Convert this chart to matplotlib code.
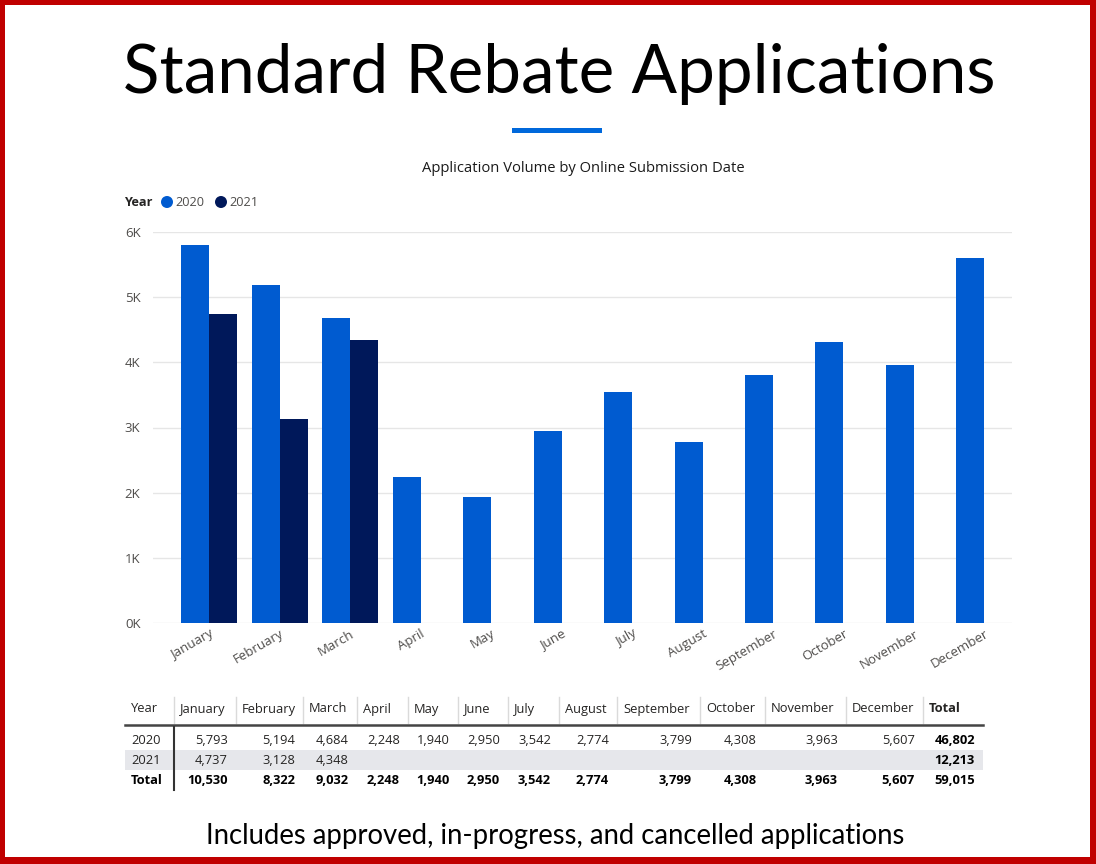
import matplotlib
matplotlib.use("Agg")
import matplotlib.pyplot as plt
from matplotlib.patches import Rectangle, Circle
import numpy as np

months = ["January", "February", "March", "April", "May", "June", "July",
          "August", "September", "October", "November", "December"]
values_2020 = [5793, 5194, 4684, 2248, 1940, 2950, 3542, 2774, 3799, 4308, 3963, 5607]
values_2021 = [4737, 3128, 4348]
years = ["2020", "2021"]
yticks = [0, 1000, 2000, 3000, 4000, 5000, 6000]
ytick_labels = ["0K", "1K", "2K", "3K", "4K", "5K", "6K"]

title = "Standard Rebate Applications"
subtitle = "Application Volume by Online Submission Date"
footer = "Includes approved, in-progress, and cancelled applications"

c2020 = "#005BD0"
c2021 = "#00185A"
gray_txt = "#4F4D4B"
UI = ["Open Sans", "DejaVu Sans"]
TITLE_FONT = ["Lato", "DejaVu Sans"]

W, H = 1096, 864
fig = plt.figure(figsize=(W / 100, H / 100), dpi=100)
fig.patch.set_facecolor("white")

# background overlay axes in pixel coordinates
bg = fig.add_axes([0, 0, 1, 1])
bg.set_xlim(0, W)
bg.set_ylim(H, 0)
bg.axis("off")

# red border
bw = 5
for (x, y, w, h) in [(0, 0, W, bw), (0, H - bw - 2, W, bw + 2), (0, 0, bw, H), (W - bw - 1, 0, bw + 1, H)]:
    bg.add_patch(Rectangle((x, y), w, h, color="#C00000", lw=0))

bg.text(559, 74, title, fontsize=48.5, family=TITLE_FONT, ha="center", va="center", color="black")
bg.add_patch(Rectangle((512, 128), 90, 5, color="#0068DB", lw=0))
bg.text(583, 168, subtitle, fontsize=10.6, family=UI, ha="center", va="center", color="#1A1A1A")

# legend
bg.text(124, 202, "Year", fontsize=9.2, family=UI, weight="bold", ha="left", va="center", color="#252423")
for i, (yr, col) in enumerate(zip(years, [c2020, c2021])):
    cx = 167 + i * 54
    bg.add_patch(Circle((cx, 202), 6, color=col, lw=0))
    bg.text(cx + 8, 202, yr, fontsize=9.2, family=UI, ha="left", va="center", color=gray_txt)

# main chart
left, right, top, bottom = 153, 1012, 232, 623
ax = fig.add_axes([left / W, 1 - bottom / H, (right - left) / W, (bottom - top) / H])
step = 70.5
x0 = (left - 209) / step
x1 = (right - 209) / step
ax.set_xlim(x0, x1)
ax.set_ylim(0, 6000)
x = np.arange(len(months))
bwid = 28 / step
ax.bar(x - bwid / 2, values_2020, width=bwid, color=c2020, zorder=3)
x21 = np.arange(len(values_2021))
ax.bar(x21 + bwid / 2, values_2021, width=bwid, color=c2021, zorder=3)
for s in ax.spines.values():
    s.set_visible(False)
ax.set_yticks(yticks)
ax.set_yticklabels(ytick_labels, family=UI, fontsize=9.5, color=gray_txt)
ax.yaxis.grid(True, color="#E6E6E6", lw=1, zorder=0)
ax.tick_params(axis="both", length=0)
ax.tick_params(axis="y", pad=9)
ax.set_xticks(x)
ax.set_xticklabels(months, family=UI, fontsize=9.5, color=gray_txt, rotation=30,
                   ha="right", va="top", rotation_mode="anchor")
ax.tick_params(axis="x", pad=3)
ax.set_facecolor("none")

# table
cols = [125, 174, 236, 303, 357, 408, 458, 508, 559, 617, 700, 765, 846, 923, 983]
header = ["Year"] + months + ["Total"]
hy, r1, r2, r3 = 709, 740, 760, 781
fs = 9.3
bg.add_patch(Rectangle((125, 750), 983 - 125, 20, color="#E6E7EB", lw=0))
for cx in cols[1:-1]:
    bg.plot([cx, cx], [697, 723], color="#DADADA", lw=1)
bg.plot([125, 983], [725, 725], color="#444444", lw=1.8)
bg.plot([174, 174], [727, 790], color="#333333", lw=1.5)

for i, hname in enumerate(header):
    bg.text(cols[i] + 6, hy, hname, fontsize=fs, family=UI, ha="left", va="center",
            color="#252423", weight="bold" if hname == "Total" else "normal")

tot2020 = sum(values_2020)
tot2021 = sum(values_2021)
rows = [("2020", values_2020, r1, tot2020), ("2021", values_2021, r2, tot2021)]
for yr, vals, yy, tot in rows:
    bg.text(131, yy, yr, fontsize=fs, family=UI, ha="left", va="center", color="#252423")
    for j, v in enumerate(vals):
        bg.text(cols[j + 2] - 8, yy, f"{v:,}", fontsize=fs, family=UI, ha="right", va="center", color="#252423")
    bg.text(cols[-1] - 8, yy, f"{tot:,}", fontsize=fs, family=UI, ha="right", va="center",
            color="black", weight="bold")
bg.text(131, r3, "Total", fontsize=fs, family=UI, ha="left", va="center", color="black", weight="bold")
for j in range(len(months)):
    v = values_2020[j] + (values_2021[j] if j < len(values_2021) else 0)
    bg.text(cols[j + 2] - 8, r3, f"{v:,}", fontsize=fs, family=UI, ha="right", va="center",
            color="black", weight="bold")
bg.text(cols[-1] - 8, r3, f"{tot2020 + tot2021:,}", fontsize=fs, family=UI, ha="right", va="center",
        color="black", weight="bold")

bg.text(555, 836, footer, fontsize=19.8, family=TITLE_FONT, ha="center", va="center", color="black")

fig.savefig("out.png", dpi=100)
